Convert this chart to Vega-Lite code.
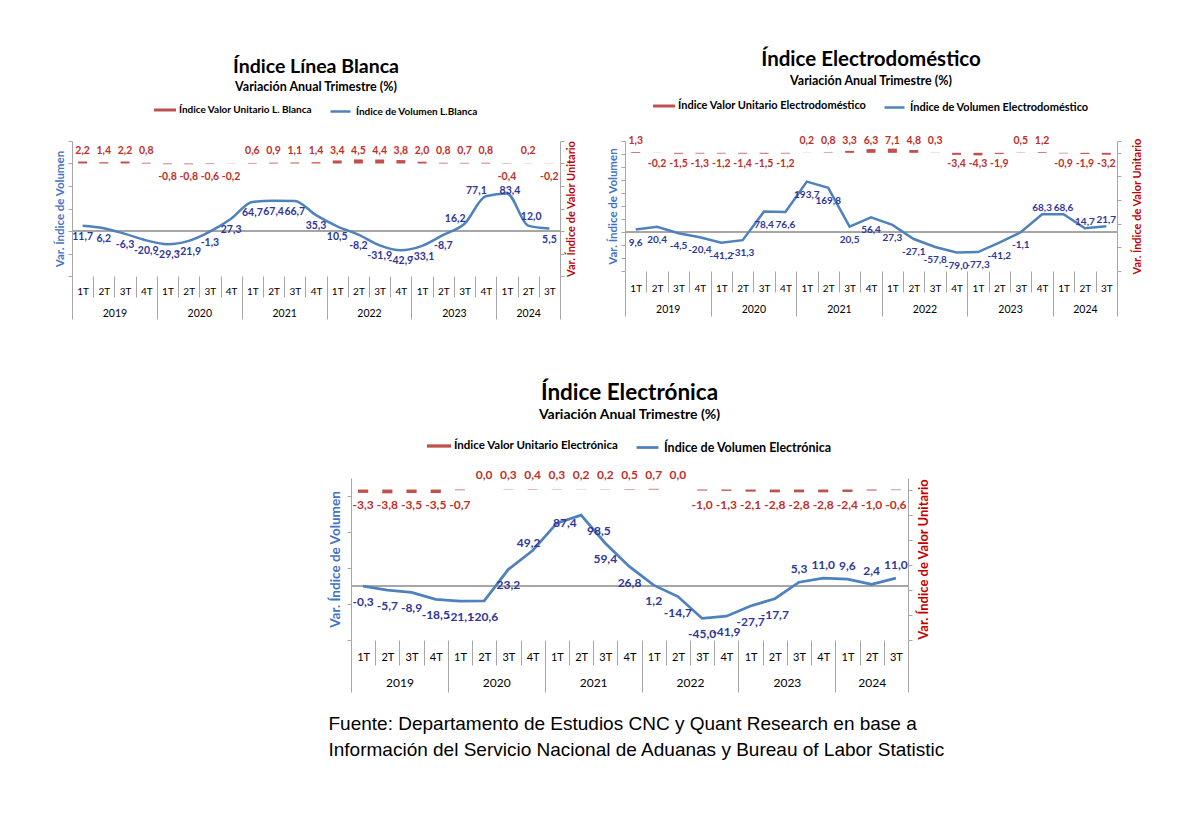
{
  "$schema": "https://vega.github.io/schema/vega-lite/v6.json",
  "padding": {"left": 54, "top": 50, "right": 5, "bottom": 5},
  "background": "white",
  "datasets": {
    "lb": [
      {"q": "2019 1T", "vu": 2.2, "vol": 11.7}, {"q": "2019 2T", "vu": 1.4, "vol": 6.2}, {"q": "2019 3T", "vu": 2.2, "vol": -6.3}, {"q": "2019 4T", "vu": 0.8, "vol": -20.9},
      {"q": "2020 1T", "vu": -0.8, "vol": -29.3}, {"q": "2020 2T", "vu": -0.8, "vol": -21.9}, {"q": "2020 3T", "vu": -0.6, "vol": -1.3}, {"q": "2020 4T", "vu": -0.2, "vol": 27.3},
      {"q": "2021 1T", "vu": 0.6, "vol": 64.7}, {"q": "2021 2T", "vu": 0.9, "vol": 67.4}, {"q": "2021 3T", "vu": 1.1, "vol": 66.7}, {"q": "2021 4T", "vu": 1.4, "vol": 35.3},
      {"q": "2022 1T", "vu": 3.4, "vol": 10.5}, {"q": "2022 2T", "vu": 4.5, "vol": -8.2}, {"q": "2022 3T", "vu": 4.4, "vol": -31.9}, {"q": "2022 4T", "vu": 3.8, "vol": -42.9},
      {"q": "2023 1T", "vu": 2.0, "vol": -33.1}, {"q": "2023 2T", "vu": 0.8, "vol": -8.7}, {"q": "2023 3T", "vu": 0.7, "vol": 16.2}, {"q": "2023 4T", "vu": 0.8, "vol": 77.1},
      {"q": "2024 1T", "vu": -0.4, "vol": 83.4}, {"q": "2024 2T", "vu": 0.2, "vol": 12.0}, {"q": "2024 3T", "vu": -0.2, "vol": 5.5}
    ],
    "ed": [
      {"q": "2019 1T", "vu": 1.3, "vol": 9.6}, {"q": "2019 2T", "vu": -0.2, "vol": 20.4}, {"q": "2019 3T", "vu": -1.5, "vol": -4.5}, {"q": "2019 4T", "vu": -1.3, "vol": -20.4},
      {"q": "2020 1T", "vu": -1.2, "vol": -41.2}, {"q": "2020 2T", "vu": -1.4, "vol": -31.3}, {"q": "2020 3T", "vu": -1.5, "vol": 78.4}, {"q": "2020 4T", "vu": -1.2, "vol": 76.6},
      {"q": "2021 1T", "vu": 0.2, "vol": 193.7}, {"q": "2021 2T", "vu": 0.8, "vol": 169.8}, {"q": "2021 3T", "vu": 3.3, "vol": 20.5}, {"q": "2021 4T", "vu": 6.3, "vol": 56.4},
      {"q": "2022 1T", "vu": 7.1, "vol": 27.3}, {"q": "2022 2T", "vu": 4.8, "vol": -27.1}, {"q": "2022 3T", "vu": 0.3, "vol": -57.8}, {"q": "2022 4T", "vu": -3.4, "vol": -79.0},
      {"q": "2023 1T", "vu": -4.3, "vol": -77.3}, {"q": "2023 2T", "vu": -1.9, "vol": -41.2}, {"q": "2023 3T", "vu": 0.5, "vol": -1.1}, {"q": "2023 4T", "vu": 1.2, "vol": 68.3},
      {"q": "2024 1T", "vu": -0.9, "vol": 68.6}, {"q": "2024 2T", "vu": -1.9, "vol": 14.7}, {"q": "2024 3T", "vu": -3.2, "vol": 21.7}
    ],
    "el": [
      {"q": "2019 1T", "vu": -3.3, "vol": -0.3}, {"q": "2019 2T", "vu": -3.8, "vol": -5.7}, {"q": "2019 3T", "vu": -3.5, "vol": -8.9}, {"q": "2019 4T", "vu": -3.5, "vol": -18.5},
      {"q": "2020 1T", "vu": -0.7, "vol": -21.1}, {"q": "2020 2T", "vu": 0.0, "vol": -20.6}, {"q": "2020 3T", "vu": 0.3, "vol": 23.2}, {"q": "2020 4T", "vu": 0.4, "vol": 49.2},
      {"q": "2021 1T", "vu": 0.3, "vol": 87.4}, {"q": "2021 2T", "vu": 0.2, "vol": 98.5}, {"q": "2021 3T", "vu": 0.2, "vol": 59.4}, {"q": "2021 4T", "vu": 0.5, "vol": 26.8},
      {"q": "2022 1T", "vu": 0.7, "vol": 1.2}, {"q": "2022 2T", "vu": 0.0, "vol": -14.7}, {"q": "2022 3T", "vu": -1.0, "vol": -45.0}, {"q": "2022 4T", "vu": -1.3, "vol": -41.9},
      {"q": "2023 1T", "vu": -2.1, "vol": -27.7}, {"q": "2023 2T", "vu": -2.8, "vol": -17.7}, {"q": "2023 3T", "vu": -2.8, "vol": 5.3}, {"q": "2023 4T", "vu": -2.8, "vol": 11.0},
      {"q": "2024 1T", "vu": -2.4, "vol": 9.6}, {"q": "2024 2T", "vu": -1.0, "vol": 2.4}, {"q": "2024 3T", "vu": -0.6, "vol": 11.0}
    ]
  },
  "config": {
    "view": {"stroke": null},
    "font": "Lato",
    "locale": {"number": {"decimal": ",", "thousands": ".", "grouping": [3], "currency": ["", ""], "minus": "-"}},
    "axis": {"domainColor": "#A6A6A6", "tickColor": "#A6A6A6", "grid": false, "labelFont": "Lato", "titleFont": "Lato"},
    "legend": {"layout": {"top": {"anchor": "middle", "margin": 16}}}
  },
  "spacing": 61,
  "resolve": {"scale": {"color": "independent", "stroke": "independent"}, "legend": {"color": "independent", "stroke": "independent"}},
  "vconcat": [
    {
      "spacing": 30,
      "resolve": {"scale": {"color": "independent", "stroke": "independent"}, "legend": {"color": "independent", "stroke": "independent"}},
      "hconcat": [
        {
          "width": 488, "height": 135,
          "data": {"name": "lb"},
          "title": {"text": "Índice Línea Blanca", "subtitle": "Variación Anual Trimestre  (%)", "anchor": "middle", "font": "Lato", "fontSize": 19.5, "fontWeight": "bold", "color": "#000000", "subtitleFont": "Lato", "subtitleFontSize": 12.5, "subtitleFontWeight": "bold", "subtitleColor": "#000000", "subtitlePadding": 3, "offset": 6},
          "layer": [
            {
              "layer": [
                {
                  "encoding": {"y": {"field": "vu", "type": "quantitative", "scale": {"domain": [-125, 25]}, "axis": {"orient": "right", "values": [-125, -100, -75, -50, -25, 0, 25], "labels": false, "tickSize": 4, "title": "Var. Índice de Valor Unitario", "titleColor": "#C00000", "titleFontSize": 11, "titleFontWeight": "bold", "titleAngle": 270, "titleBaseline": "top", "titlePadding": 1}}},
                  "layer": [
                    {
                      "mark": {"type": "bar", "width": {"band": 0.42}},
                      "encoding": {
                        "x": {"field": "q", "type": "ordinal", "scale": {"paddingInner": 0, "paddingOuter": 0}, "axis": {"orient": "bottom", "title": null, "domain": false, "tickBand": "extent", "tickColor": "#A6A6A6", "tickSize": {"condition": {"test": "!isString(datum.value) || indexof(datum.value, '4T') >= 0 || datum.value == '2024 3T'", "value": 43}, "value": 21}, "labelPadding": {"condition": {"test": "isString(datum.value) && (indexof(datum.value, '4T') >= 0 || datum.value == '2024 3T')", "value": -28}, "value": -6}, "labelExpr": "isString(datum.value) ? split(datum.value, ' ')[1] : ''", "labelAngle": 0, "labelBaseline": "middle", "labelFontSize": 10, "labelColor": "#000000"}},
                        "color": {"datum": "Índice Valor Unitario L. Blanca", "type": "nominal", "scale": {"range": ["#C0504D"]}, "legend": {"title": null, "orient": "top", "offset": 24, "symbolType": "M-1.1,-0.15H1.1V0.15H-1.1Z", "symbolSize": 400, "symbolStrokeWidth": 0, "labelFontSize": 10, "labelFontWeight": "bold", "labelColor": "#000000", "labelLimit": 400}}
                      }
                    },
                    {
                      "transform": [{"filter": "datum.vu >= 0"}],
                      "mark": {"type": "text", "baseline": "bottom", "dy": -8, "fontSize": 10.5, "fontWeight": "bold", "color": "#C0302B"},
                      "encoding": {"x": {"field": "q", "type": "ordinal"}, "y": {"datum": 0}, "text": {"field": "vu", "type": "quantitative", "format": ".1f"}}
                    },
                    {
                      "transform": [{"filter": "datum.vu < 0"}],
                      "mark": {"type": "text", "baseline": "top", "dy": 8, "fontSize": 10.5, "fontWeight": "bold", "color": "#C0302B"},
                      "encoding": {"x": {"field": "q", "type": "ordinal"}, "y": {"datum": 0}, "text": {"field": "vu", "type": "quantitative", "format": ".1f"}}
                    }
                  ]
                },
                {
                  "encoding": {"y": {"field": "vol", "type": "quantitative", "scale": {"domain": [-100, 200]}, "axis": {"orient": "left", "values": [-100, -50, 0, 50, 100, 150, 200], "labels": false, "tickSize": 4, "title": "Var. Índice de Volumen", "titleColor": "#4472C4", "titleFontSize": 11.5, "titleFontWeight": "bold", "titlePadding": 2}}},
                  "layer": [
                    {"mark": {"type": "rule", "color": "#A6A6A6", "strokeWidth": 1}, "encoding": {"y": {"datum": 0}}},
                    {
                      "mark": {"type": "line", "strokeWidth": 2.5, "interpolate": "monotone"},
                      "encoding": {"x": {"field": "q", "type": "ordinal"}, "stroke": {"datum": "Índice de Volumen L.Blanca", "type": "nominal", "scale": {"range": ["#4F81BD"]}, "legend": {"title": null, "orient": "top", "offset": 24, "symbolType": "stroke", "symbolSize": 400, "symbolStrokeWidth": 2.5, "labelFontSize": 10, "labelFontWeight": "bold", "labelColor": "#000000", "labelLimit": 400}}}
                    },
                    {
                      "transform": [{"filter": "datum.q < '2023 3T' || datum.q == '2024 3T'"}],
                      "mark": {"type": "text", "baseline": "top", "dy": 6, "fontSize": 10.5, "fontWeight": "bold", "color": "#2F3699"},
                      "encoding": {"x": {"field": "q", "type": "ordinal"}, "text": {"field": "vol", "type": "quantitative", "format": ".1f"}}
                    },
                    {
                      "transform": [{"filter": "datum.q == '2023 3T' || datum.q == '2023 4T'"}],
                      "mark": {"type": "text", "baseline": "bottom", "align": "right", "dx": 1, "dy": 0, "fontSize": 10.5, "fontWeight": "bold", "color": "#2F3699"},
                      "encoding": {"x": {"field": "q", "type": "ordinal"}, "text": {"field": "vol", "type": "quantitative", "format": ".1f"}}
                    },
                    {
                      "transform": [{"filter": "datum.q == '2024 1T'"}],
                      "mark": {"type": "text", "baseline": "middle", "dx": 3, "dy": -2, "fontSize": 10.5, "fontWeight": "bold", "color": "#2F3699"},
                      "encoding": {"x": {"field": "q", "type": "ordinal"}, "text": {"field": "vol", "type": "quantitative", "format": ".1f"}}
                    },
                    {
                      "transform": [{"filter": "datum.q == '2024 2T'"}],
                      "mark": {"type": "text", "baseline": "bottom", "dx": 3, "dy": -4, "fontSize": 10.5, "fontWeight": "bold", "color": "#2F3699"},
                      "encoding": {"x": {"field": "q", "type": "ordinal"}, "text": {"field": "vol", "type": "quantitative", "format": ".1f"}}
                    }
                  ]
                }
              ],
              "resolve": {"scale": {"y": "independent"}}
            },
            {
              "mark": {"type": "text", "text": ""},
              "encoding": {"x": {"field": "q", "type": "ordinal", "scale": {"paddingInner": 0, "paddingOuter": 0}, "axis": {"orient": "bottom", "title": null, "domain": false, "ticks": false, "labelExpr": "isString(datum.value) && indexof(datum.value, '2T') >= 0 ? slice(datum.value, 0, 4) : ''", "labelOffset": {"condition": {"test": "datum.value == '2024 2T'", "value": 0}, "value": 10.6}, "labelPadding": 37, "labelBaseline": "middle", "labelAngle": 0, "labelFontSize": 10.5, "labelColor": "#000000"}}}
            }
          ],
          "resolve": {"scale": {"x": "independent", "y": "independent"}}
        },
        {
          "width": 492, "height": 130,
          "data": {"name": "ed"},
          "title": {"text": "Índice Electrodoméstico", "subtitle": "Variación Anual Trimestre  (%)", "anchor": "middle", "font": "Lato", "fontSize": 20.5, "fontWeight": "bold", "color": "#000000", "subtitleFont": "Lato", "subtitleFontSize": 12.5, "subtitleFontWeight": "bold", "subtitleColor": "#000000", "subtitlePadding": 4, "offset": 9},
          "layer": [
            {
              "layer": [
                {
                  "encoding": {"y": {"field": "vu", "type": "quantitative", "scale": {"domain": [-200, 20]}, "axis": {"orient": "right", "values": [-200, -160, -120, -80, -40, 0, 20], "labels": false, "tickSize": 4, "title": "Var. Índice de Valor Unitario", "titleColor": "#C00000", "titleFontSize": 11, "titleFontWeight": "bold", "titleAngle": 270, "titleBaseline": "top", "titlePadding": 10}}},
                  "layer": [
                    {
                      "mark": {"type": "bar", "width": {"band": 0.42}},
                      "encoding": {
                        "x": {"field": "q", "type": "ordinal", "scale": {"paddingInner": 0, "paddingOuter": 0}, "axis": {"orient": "bottom", "title": null, "domain": false, "tickBand": "extent", "tickColor": "#A6A6A6", "tickSize": {"condition": {"test": "!isString(datum.value) || indexof(datum.value, '4T') >= 0 || datum.value == '2024 3T'", "value": 45}, "value": 21}, "labelPadding": {"condition": {"test": "isString(datum.value) && (indexof(datum.value, '4T') >= 0 || datum.value == '2024 3T')", "value": -28}, "value": -4}, "labelExpr": "isString(datum.value) ? split(datum.value, ' ')[1] : ''", "labelAngle": 0, "labelBaseline": "middle", "labelFontSize": 10, "labelColor": "#000000"}},
                        "color": {"datum": "Índice Valor Unitario Electrodoméstico", "type": "nominal", "scale": {"range": ["#C0504D"]}, "legend": {"title": null, "orient": "top", "offset": 28, "symbolType": "M-1.1,-0.15H1.1V0.15H-1.1Z", "symbolSize": 400, "symbolStrokeWidth": 0, "labelFontSize": 11, "labelFontWeight": "bold", "labelColor": "#000000", "labelLimit": 400}}
                      }
                    },
                    {
                      "transform": [{"filter": "datum.vu >= 0"}],
                      "mark": {"type": "text", "baseline": "bottom", "dy": -7, "fontSize": 10.5, "fontWeight": "bold", "color": "#C0302B"},
                      "encoding": {"x": {"field": "q", "type": "ordinal"}, "y": {"datum": 0}, "text": {"field": "vu", "type": "quantitative", "format": ".1f"}}
                    },
                    {
                      "transform": [{"filter": "datum.vu < 0"}],
                      "mark": {"type": "text", "baseline": "top", "dy": 6, "fontSize": 10.5, "fontWeight": "bold", "color": "#C0302B"},
                      "encoding": {"x": {"field": "q", "type": "ordinal"}, "y": {"datum": 0}, "text": {"field": "vu", "type": "quantitative", "format": ".1f"}}
                    }
                  ]
                },
                {
                  "encoding": {"y": {"field": "vol", "type": "quantitative", "scale": {"domain": [-150, 350]}, "axis": {"orient": "left", "values": [-150, -100, -50, 0, 50, 100, 150, 200, 250, 300, 350], "labels": false, "tickSize": 4, "title": "Var. Índice de Volumen", "titleColor": "#4472C4", "titleFontSize": 11.5, "titleFontWeight": "bold", "titlePadding": 2}}},
                  "layer": [
                    {"mark": {"type": "rule", "color": "#A6A6A6", "strokeWidth": 1}, "encoding": {"y": {"datum": 0}}},
                    {
                      "mark": {"type": "line", "strokeWidth": 2.5},
                      "encoding": {"x": {"field": "q", "type": "ordinal"}, "stroke": {"datum": "Índice de Volumen Electrodoméstico", "type": "nominal", "scale": {"range": ["#4F81BD"]}, "legend": {"title": null, "orient": "top", "offset": 28, "symbolType": "stroke", "symbolSize": 400, "symbolStrokeWidth": 2.5, "labelFontSize": 11, "labelFontWeight": "bold", "labelColor": "#000000", "labelLimit": 400}}}
                    },
                    {
                      "transform": [{"filter": "datum.q < '2023 4T'"}],
                      "mark": {"type": "text", "baseline": "top", "dy": 8, "fontSize": 10, "fontWeight": "bold", "color": "#2F3699"},
                      "encoding": {"x": {"field": "q", "type": "ordinal"}, "text": {"field": "vol", "type": "quantitative", "format": ".1f"}}
                    },
                    {
                      "transform": [{"filter": "datum.q >= '2023 4T'"}],
                      "mark": {"type": "text", "baseline": "bottom", "dy": -1, "fontSize": 10, "fontWeight": "bold", "color": "#2F3699"},
                      "encoding": {"x": {"field": "q", "type": "ordinal"}, "text": {"field": "vol", "type": "quantitative", "format": ".1f"}}
                    }
                  ]
                }
              ],
              "resolve": {"scale": {"y": "independent"}}
            },
            {
              "mark": {"type": "text", "text": ""},
              "encoding": {"x": {"field": "q", "type": "ordinal", "scale": {"paddingInner": 0, "paddingOuter": 0}, "axis": {"orient": "bottom", "title": null, "domain": false, "ticks": false, "labelExpr": "isString(datum.value) && indexof(datum.value, '2T') >= 0 ? slice(datum.value, 0, 4) : ''", "labelOffset": {"condition": {"test": "datum.value == '2024 2T'", "value": 0}, "value": 10.7}, "labelPadding": 38, "labelBaseline": "middle", "labelAngle": 0, "labelFontSize": 10.5, "labelColor": "#000000"}}}
            }
          ],
          "resolve": {"scale": {"x": "independent", "y": "independent"}}
        }
      ]
    },
    {
      "spacing": 0,
      "resolve": {"scale": {"color": "independent", "stroke": "independent"}, "legend": {"color": "independent", "stroke": "independent"}},
      "hconcat": [
        {"width": 256, "height": 10, "data": {"values": [{}]}, "mark": {"type": "text", "text": ""}},
        {
          "title": {"text": ["Fuente: Departamento de Estudios CNC y Quant Research en base a", "Información del Servicio Nacional de Aduanas y Bureau of Labor Statistic"], "orient": "bottom", "anchor": "start", "font": "Liberation Sans", "fontSize": 19, "fontWeight": "normal", "color": "#000000", "lineHeight": 26, "offset": 22},
          "resolve": {"scale": {"color": "independent", "stroke": "independent"}, "legend": {"color": "independent", "stroke": "independent"}},
          "vconcat": [
            {
              "width": 557, "height": 162,
              "data": {"name": "el"},
              "title": {"text": "Índice Electrónica", "subtitle": "Variación Anual Trimestre  (%)", "anchor": "middle", "font": "Lato", "fontSize": 22.5, "fontWeight": "bold", "color": "#000000", "subtitleFont": "Lato", "subtitleFontSize": 14, "subtitleFontWeight": "bold", "subtitleColor": "#000000", "subtitlePadding": 4, "offset": 13},
              "layer": [
                {
                  "layer": [
                    {
                      "encoding": {"y": {"field": "vu", "type": "quantitative", "scale": {"domain": [-150, 11.5]}, "axis": {"orient": "right", "values": [-150, -125, -100, -75, -50, -25, 0], "labels": false, "tickSize": 4, "title": "Var. Índice de Valor Unitario", "titleColor": "#C00000", "titleFontSize": 13, "titleFontWeight": "bold", "titleAngle": 270, "titleBaseline": "top", "titlePadding": 5}}},
                      "layer": [
                        {
                          "mark": {"type": "bar", "width": {"band": 0.42}},
                          "encoding": {
                            "x": {"field": "q", "type": "ordinal", "scale": {"paddingInner": 0, "paddingOuter": 0}, "axis": {"orient": "bottom", "title": null, "domain": false, "tickBand": "extent", "tickColor": "#A6A6A6", "tickSize": {"condition": {"test": "!isString(datum.value) || indexof(datum.value, '4T') >= 0 || datum.value == '2024 3T'", "value": 52}, "value": 25}, "labelPadding": {"condition": {"test": "isString(datum.value) && (indexof(datum.value, '4T') >= 0 || datum.value == '2024 3T')", "value": -35}, "value": -8}, "labelExpr": "isString(datum.value) ? split(datum.value, ' ')[1] : ''", "labelAngle": 0, "labelBaseline": "middle", "labelFontSize": 11, "labelColor": "#000000"}},
                            "color": {"datum": "Índice Valor Unitario Electrónica", "type": "nominal", "scale": {"range": ["#C0504D"]}, "legend": {"title": null, "orient": "top", "offset": 24, "symbolType": "M-1.1,-0.15H1.1V0.15H-1.1Z", "symbolSize": 480, "symbolStrokeWidth": 0, "labelFontSize": 11.5, "labelFontWeight": "bold", "labelColor": "#000000", "labelLimit": 400}}
                          }
                        },
                        {
                          "transform": [{"filter": "datum.vu >= 0"}],
                          "mark": {"type": "text", "baseline": "bottom", "dy": -8, "fontSize": 12, "fontWeight": "bold", "color": "#C0302B"},
                          "encoding": {"x": {"field": "q", "type": "ordinal"}, "y": {"datum": 0}, "text": {"field": "vu", "type": "quantitative", "format": ".1f"}}
                        },
                        {
                          "transform": [{"filter": "datum.vu < 0"}],
                          "mark": {"type": "text", "baseline": "top", "dy": 10, "fontSize": 12, "fontWeight": "bold", "color": "#C0302B"},
                          "encoding": {"x": {"field": "q", "type": "ordinal"}, "y": {"datum": 0}, "text": {"field": "vu", "type": "quantitative", "format": ".1f"}}
                        }
                      ]
                    },
                    {
                      "encoding": {"y": {"field": "vol", "type": "quantitative", "scale": {"domain": [-75, 150]}, "axis": {"orient": "left", "values": [-75, -25, 25, 75, 125], "labels": false, "tickSize": 4, "title": "Var. Índice de Volumen", "titleColor": "#4472C4", "titleFontSize": 13.5, "titleFontWeight": "bold", "titlePadding": 4}}},
                      "layer": [
                        {"mark": {"type": "rule", "color": "#A6A6A6", "strokeWidth": 1}, "encoding": {"y": {"datum": 0}}},
                        {
                          "mark": {"type": "line", "strokeWidth": 2.75},
                          "encoding": {"x": {"field": "q", "type": "ordinal"}, "stroke": {"datum": "Índice de Volumen Electrónica", "type": "nominal", "scale": {"range": ["#4F81BD"]}, "legend": {"title": null, "orient": "top", "offset": 24, "symbolType": "stroke", "symbolSize": 480, "symbolStrokeWidth": 2.75, "labelFontSize": 12.5, "labelFontWeight": "bold", "labelColor": "#000000", "labelLimit": 400}}}
                        },
                        {
                          "transform": [{"filter": "datum.q < '2023 3T' && datum.q != '2020 4T' && datum.q != '2021 1T' && datum.q != '2021 2T'"}],
                          "mark": {"type": "text", "baseline": "top", "dy": 11, "fontSize": 12, "fontWeight": "bold", "color": "#2F3699"},
                          "encoding": {"x": {"field": "q", "type": "ordinal"}, "text": {"field": "vol", "type": "quantitative", "format": ".1f"}}
                        },
                        {
                          "transform": [{"filter": "datum.q >= '2023 3T'"}],
                          "mark": {"type": "text", "baseline": "bottom", "dy": -6, "fontSize": 12, "fontWeight": "bold", "color": "#2F3699"},
                          "encoding": {"x": {"field": "q", "type": "ordinal"}, "text": {"field": "vol", "type": "quantitative", "format": ".1f"}}
                        },
                        {
                          "transform": [{"filter": "datum.q == '2020 4T'"}],
                          "mark": {"type": "text", "baseline": "middle", "dy": -8, "dx": -4, "fontSize": 12, "fontWeight": "bold", "color": "#2F3699"},
                          "encoding": {"x": {"field": "q", "type": "ordinal"}, "text": {"field": "vol", "type": "quantitative", "format": ".1f"}}
                        },
                        {
                          "transform": [{"filter": "datum.q == '2021 1T'"}],
                          "mark": {"type": "text", "baseline": "middle", "align": "center", "dx": 8, "dy": 0, "fontSize": 12, "fontWeight": "bold", "color": "#2F3699"},
                          "encoding": {"x": {"field": "q", "type": "ordinal"}, "text": {"field": "vol", "type": "quantitative", "format": ".1f"}}
                        },
                        {
                          "transform": [{"filter": "datum.q == '2021 2T'"}],
                          "mark": {"type": "text", "baseline": "top", "align": "left", "dx": 6, "dy": 11, "fontSize": 12, "fontWeight": "bold", "color": "#2F3699"},
                          "encoding": {"x": {"field": "q", "type": "ordinal"}, "text": {"field": "vol", "type": "quantitative", "format": ".1f"}}
                        }
                      ]
                    }
                  ],
                  "resolve": {"scale": {"y": "independent"}}
                },
                {
                  "mark": {"type": "text", "text": ""},
                  "encoding": {"x": {"field": "q", "type": "ordinal", "scale": {"paddingInner": 0, "paddingOuter": 0}, "axis": {"orient": "bottom", "title": null, "domain": false, "ticks": false, "labelExpr": "isString(datum.value) && indexof(datum.value, '2T') >= 0 ? slice(datum.value, 0, 4) : ''", "labelOffset": {"condition": {"test": "datum.value == '2024 2T'", "value": 0}, "value": 12.1}, "labelPadding": 42, "labelBaseline": "middle", "labelAngle": 0, "labelFontSize": 12, "labelColor": "#000000"}}}
                }
              ],
              "resolve": {"scale": {"x": "independent", "y": "independent"}}
            }
          ]
        }
      ]
    }
  ]
}
